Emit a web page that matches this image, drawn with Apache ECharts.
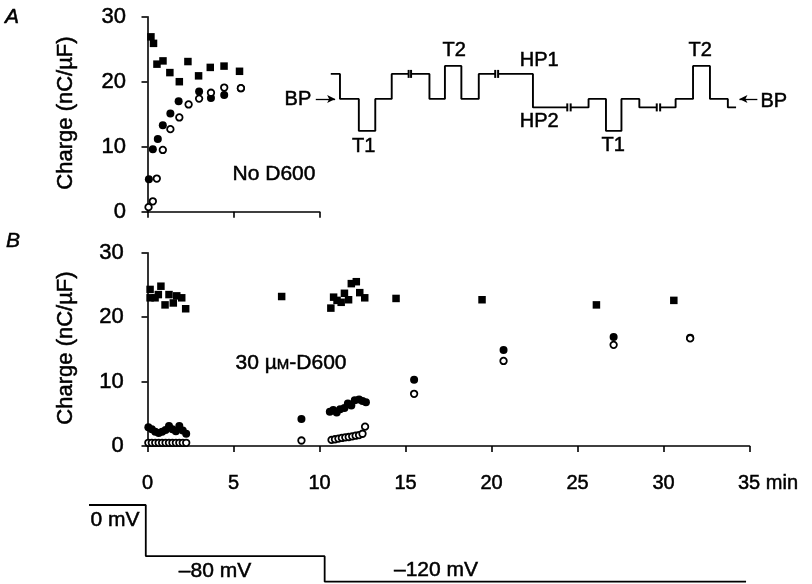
<!DOCTYPE html>
<html><head><meta charset="utf-8">
<script src="https://cdn.jsdelivr.net/npm/echarts@6/dist/echarts.min.js"></script>
<style>html,body{margin:0;padding:0;background:#fff}#c{width:812px;height:584px}</style>
</head><body><div id="c"></div>
<script>
// ---------- Panel A: No D600 ----------
const aSqX   = [0.2, 0.35, 0.55, 0.9, 1.3, 1.85, 2.35, 2.97, 3.65, 4.45, 5.35];
const aSqY   = [26.9, 25.9, 22.7, 23.2, 21.4, 20.0, 23.1, 20.9, 22.2, 22.4, 21.6];
const aFillX = [0.08, 0.31, 0.6, 0.89, 1.33, 1.81, 3.0, 3.69, 4.46, 5.43];
const aFillY = [5.0, 9.6, 11.2, 13.3, 15.1, 17.0, 18.5, 17.5, 17.95, 19.0];
const aOpenX = [0.06, 0.31, 0.54, 0.89, 1.33, 1.85, 2.39, 3.0, 3.69, 4.46, 5.43];
const aOpenY = [0.7, 1.6, 5.1, 9.5, 12.7, 14.5, 16.5, 17.4, 18.3, 19.1, 19.0];

// ---------- Panel B: 30 uM D600 ----------
const bSqX = [0.15,0.15,0.44,0.63,0.78,1.02,1.25,1.5,1.7,1.99,2.22, 7.8,
  10.66,10.82,11.02,11.26,11.45,11.69,11.85,12.14,12.34,12.63, 14.45, 19.45, 26.1, 30.6];
const bSqY = [24.3,23.0,23.0,23.5,24.8,21.9,23.5,22.2,23.3,23.0,21.3, 23.2,
  21.4,23.1,22.6,22.3,23.7,22.7,25.2,25.5,23.8,23.0, 22.9, 22.7, 21.9, 22.6];
const bFillX = [0.05,0.25,0.45,0.65,0.85,1.05,1.25,1.45,1.65,1.85,2.05,2.25, 8.95,
  10.6,10.8,11.0,11.2,11.45,11.65,11.85,12.05,12.3,12.5,12.7, 15.5, 20.7, 27.1, 31.55];
const bFillY = [2.9,2.6,2.2,2.0,2.2,2.5,3.1,2.6,2.3,3.1,2.4,1.9, 4.2,
  5.3,5.6,5.2,5.7,5.9,6.6,6.3,7.1,7.2,7.0,6.8, 10.3, 14.9, 16.9, 16.8];
const bOpenX = [0.05,0.25,0.45,0.65,0.85,1.05,1.25,1.45,1.65,1.85,2.05,2.25, 8.95,
  10.7,10.9,11.1,11.3,11.5,11.7,11.9,12.1,12.3,12.5,12.65, 15.5, 20.7, 27.1, 31.55];
const bOpenY = [0.5,0.5,0.5,0.5,0.5,0.5,0.5,0.5,0.5,0.5,0.5,0.5, 0.85,
  0.95,1.05,1.15,1.25,1.35,1.4,1.5,1.6,1.7,1.9,3.0, 8.1, 13.2, 15.7, 16.7];

// ---------- Axis ticks ----------
const chargeTicks = [0, 10, 20, 30];
const timeTicks = [0, 5, 10, 15, 20, 25, 30, 35];

// ---------- Holding-potential protocol (bottom) ----------
const vTime  = [-3.4, -0.1, -0.1, 10.3, 10.3, 34.8];
const vLevel = [0, 0, -80, -80, -120, -120];
const vLabels = ['0 mV', '\u201380 mV', '\u2013120 mV'];

// ---------- Pulse schematic (arbitrary units; null = break) ----------
const protoT = [10.5,12.4,12.4,16.3,16.3,19.7,19.7,23.1,23.1,26.6, null,
  27.1,30.9,30.9,34.1,34.1,37.5,37.5,41.1,41.1,44.5, null,
  45.1,52.3,52.3,59.4, null,
  60.1,63.8,63.8,67.4,67.4,70.6,70.6,74.3,74.3,77.9, null,
  78.6,81.8,81.8,85.4,85.4,88.9,88.9,92.6,92.6,94.3];
const protoV = [25,25,0,0,-32,-32,0,0,25,25, null,
  25,25,0,0,33,33,0,0,25,25, null,
  25,25,-8.5,-8.5, null,
  -8.5,-8.5,0,0,-32,-32,0,0,-8.5,-8.5, null,
  -8.5,-8.5,0,0,33,33,0,0,-8.5,-8.5];
const breakT = [26.6,27.1,44.5,45.1,59.4,60.1,77.9,78.6];
const breakV = [25,25,25,25,-8.5,-8.5,-8.5,-8.5];
const protoLabelText = ['BP','T1','T2','HP1','HP2','T1','T2','BP'];
const protoLabelT = [3.7, 17.3, 36.0, 53.6, 53.6, 68.9, 86.9, 102.1];
const protoLabelV = [-0.7, -48, 48, 38, -22.7, -47, 48, -2.4];

const FONT = 'Liberation Sans, Arial, Helvetica, sans-serif';
const zip = (xs, ys) => xs.map((x, i) => [x, ys[i]]);
const INK = { textBorderColor: '#000', textBorderWidth: 0.5 };

const axisLineStyle = { color: '#000', width: 1.6 };
function chargeAxis(grid, offset) {
  return {
    type: 'value', gridIndex: grid, min: 0, max: 30, interval: 10, offset: offset,
    axisLine: { show: true, lineStyle: axisLineStyle },
    axisTick: { show: true, length: 6, lineStyle: axisLineStyle },
    splitLine: { show: false },
    axisLabel: Object.assign({ color: '#000', fontSize: 22, fontFamily: FONT, margin: 9,
      formatter: v => chargeTicks.includes(v) ? String(v) : '' }, INK)
  };
}

const solidStyle = { color: '#000', opacity: 1 };
const openStyle = { color: '#fff', borderColor: '#000', borderWidth: 1.8, opacity: 1 };

function txt(x, y, text, size, extra) {
  return Object.assign({ type: 'text', x: x, y: y,
    style: Object.assign({ text: text, font: size + 'px ' + FONT, fill: '#000', align: 'center',
      verticalAlign: 'middle', stroke: '#000', lineWidth: 0.5 }, extra || {}) });
}

const option = {
  animation: false,
  backgroundColor: '#fff',
  grid: [
    { left: 147.5, top: 16.7, width: 172, height: 195 },
    { left: 147.5, top: 252.7, width: 602, height: 193.3 },
    { left: 87.3, top: 505, width: 662.2, height: 76.7 },
    { left: 280, top: 58.9, width: 550, height: 80 }
  ],
  xAxis: [
    { type: 'value', gridIndex: 0, min: 0, max: 10, interval: 5, offset: 16.3,
      axisLine: { show: true, lineStyle: axisLineStyle },
      axisTick: { show: true, length: 6, lineStyle: axisLineStyle },
      splitLine: { show: false }, axisLabel: { show: false } },
    { type: 'value', gridIndex: 1, min: 0, max: 35, interval: 5, offset: 17.3,
      axisLine: { show: true, lineStyle: axisLineStyle },
      axisTick: { show: true, length: 6, lineStyle: axisLineStyle },
      splitLine: { show: false },
      axisLabel: Object.assign({ color: '#000', fontSize: 20, fontFamily: FONT, margin: 10,
        formatter: v => !timeTicks.includes(v) ? '' : (v === 35 ? '{s|}35 min' : String(v)),
        rich: { s: { width: 37 } } }, INK) },
    { type: 'value', gridIndex: 2, min: -3.5, max: 35, show: false },
    { type: 'value', gridIndex: 3, min: 0, max: 110, show: false }
  ],
  yAxis: [
    chargeAxis(0, 12.5),
    chargeAxis(1, 14.8),
    { type: 'value', gridIndex: 2, min: -120, max: 0, show: false },
    { type: 'value', gridIndex: 3, min: -40, max: 40, show: false }
  ],
  series: [
    // Panel A
    { type: 'scatter', xAxisIndex: 0, yAxisIndex: 0, clip: false, symbol: 'rect', symbolSize: 7.5,
      itemStyle: solidStyle, data: zip(aSqX, aSqY) },
    { type: 'scatter', xAxisIndex: 0, yAxisIndex: 0, clip: false, symbol: 'circle', symbolSize: 8,
      itemStyle: solidStyle, data: zip(aFillX, aFillY) },
    { type: 'scatter', xAxisIndex: 0, yAxisIndex: 0, clip: false, symbol: 'circle', symbolSize: 6.5,
      itemStyle: openStyle, data: zip(aOpenX, aOpenY) },
    // Panel B
    { type: 'scatter', xAxisIndex: 1, yAxisIndex: 1, clip: false, symbol: 'rect', symbolSize: 7.5,
      itemStyle: solidStyle, data: zip(bSqX, bSqY) },
    { type: 'scatter', xAxisIndex: 1, yAxisIndex: 1, clip: false, symbol: 'circle', symbolSize: 8,
      itemStyle: solidStyle, data: zip(bFillX, bFillY) },
    { type: 'scatter', xAxisIndex: 1, yAxisIndex: 1, clip: false, symbol: 'circle', symbolSize: 6.5,
      itemStyle: openStyle, data: zip(bOpenX, bOpenY) },
    // Holding potential protocol
    { type: 'line', xAxisIndex: 2, yAxisIndex: 2, clip: false, showSymbol: false, symbol: 'none',
      lineStyle: { color: '#000', width: 1.8 }, data: zip(vTime, vLevel) },
    // Pulse schematic
    { type: 'line', xAxisIndex: 3, yAxisIndex: 3, clip: false, showSymbol: false, symbol: 'none',
      connectNulls: false,
      lineStyle: { color: '#000', width: 1.9 },
      data: protoT.map((t, i) => t === null ? '-' : [t, protoV[i]]),
      markLine: { silent: true, symbol: ['none', 'arrow'], symbolSize: [6, 8], animation: false,
        lineStyle: { color: '#000', width: 1.3, type: 'solid', opacity: 1 }, label: { show: false },
        data: [ [{ coord: [7.4, 0] }, { coord: [11.4, 0] }],
                [{ coord: [98.7, 0] }, { coord: [95.0, 0] }] ] } },
    { type: 'scatter', xAxisIndex: 3, yAxisIndex: 3, clip: false, symbol: 'rect', symbolSize: [2, 8],
      itemStyle: solidStyle, data: zip(breakT, breakV) },
    { type: 'scatter', xAxisIndex: 3, yAxisIndex: 3, clip: false, symbolSize: 0,
      itemStyle: { opacity: 1 },
      label: Object.assign({ show: true, position: 'inside', color: '#000', fontSize: 20, fontFamily: FONT,
        formatter: p => protoLabelText[p.dataIndex] }, INK),
      data: zip(protoLabelT, protoLabelV) }
  ],
  graphic: [
    txt(12, 17, 'A', 21, { font: 'italic 21px ' + FONT }),
    txt(13, 241, 'B', 21, { font: 'italic 21px ' + FONT }),
    Object.assign(txt(66, 113, 'Charge (nC/\u00b5F)', 22), { rotation: Math.PI / 2 }),
    Object.assign(txt(66, 348, 'Charge (nC/\u00b5F)', 22), { rotation: Math.PI / 2 }),
    txt(274, 174, 'No D600', 21),
    txt(291, 363, '30 \u00b5{sc|M}-D600', 21, {
      rich: { sc: { fontSize: 15, fontFamily: FONT, fill: '#000', stroke: '#000', lineWidth: 0.5, padding: [4, 0, 0, 0] } } }),
    txt(115, 520, vLabels[0], 21),
    txt(215, 571, vLabels[1], 21),
    txt(436, 570, vLabels[2], 21)
  ]
};

const chart = echarts.init(document.getElementById('c'), null, { renderer: 'canvas' });
chart.setOption(option);
</script>
</body></html>
